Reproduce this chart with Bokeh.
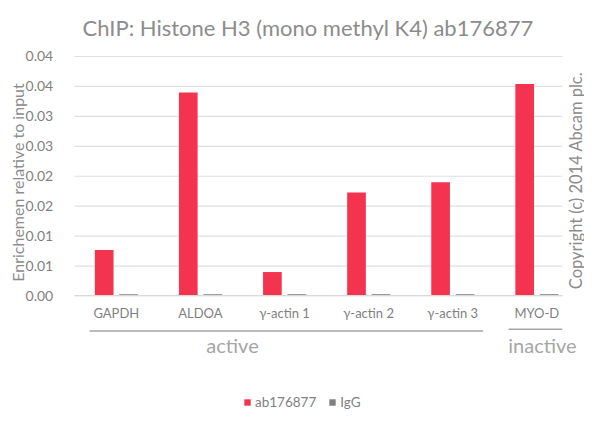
from math import pi
from bokeh.plotting import figure
from bokeh.models import Label, Legend, LegendItem, FixedTicker, Range1d, ColumnDataSource
from bokeh.transform import dodge
from bokeh.embed import file_html
from bokeh.resources import INLINE

categories = ["GAPDH", "ALDOA", "γ-actin 1", "γ-actin 2", "γ-actin 3", "MYO-D"]
ab176877 = [0.0077, 0.0340, 0.0040, 0.0173, 0.0190, 0.0354]
igg = [0.0003, 0.0003, 0.0003, 0.0003, 0.0003, 0.0003]
y_ticks = [0.0, 0.005, 0.01, 0.015, 0.02, 0.025, 0.03, 0.035, 0.04]
y_labels = ["0.00", "0.01", "0.01", "0.02", "0.02", "0.03", "0.03", "0.04", "0.04"]
title_text = "ChIP: Histone H3 (mono methyl K4) ab176877"
y_title = "Enrichemen relative to input"
copyright_text = "Copyright (c) 2014 Abcam plc."

FONT = "Lato"
RED = "#f4344f"
GREY = "#7f7f7f"
positions = list(range(len(categories)))
X_BOUNDS = (-0.5, 5.3026)

source = ColumnDataSource(dict(x=positions, ab=ab176877, igg=igg))

p = figure(
    width=584, height=411, output_backend="svg", toolbar_location=None,
    x_range=Range1d(-1.377, 5.567), y_range=Range1d(-0.01929, 0.0420),
    min_border_left=0, min_border_right=0, min_border_top=44, min_border_bottom=0,
    background_fill_color="white", border_fill_color="white",
    outline_line_color=None,
)
p.title.text = title_text
p.title.text_font = FONT
p.title.text_font_size = "22px"
p.title.text_font_style = "normal"
p.title.text_color = "#8c8c8c"
p.title.align = "left"
p.title.offset = 82
p.title.standoff = 8

# horizontal gridlines stop at the plot area, so they are drawn as segments
p.segment(x0=[X_BOUNDS[0]] * len(y_ticks), x1=[X_BOUNDS[1]] * len(y_ticks), y0=y_ticks, y1=y_ticks,
          line_color="#e0e0e0", line_width=1.2, level="underlay")

bar_a = p.vbar(x=dodge("x", -0.144), top="ab", width=0.222, source=source,
               fill_color=RED, line_color=None)
bar_b = p.vbar(x=dodge("x", 0.147), top="igg", width=0.222, source=source,
               fill_color=GREY, line_color=None)

# group brackets under the category labels
p.segment(x0=[positions[0] - 0.318], x1=[positions[4] + 0.36], y0=[-0.00585], y1=[-0.00585],
          line_color="#a6a6a6", line_width=1.5)
p.segment(x0=[positions[5] - 0.335], x1=[X_BOUNDS[1]], y0=[-0.00555], y1=[-0.00555],
          line_color="#a6a6a6", line_width=1.5)

xa = p.xaxis[0]
xa.fixed_location = 0
xa.bounds = X_BOUNDS
xa.ticker = FixedTicker(ticks=positions)
xa.major_label_overrides = dict(zip(positions, categories))
xa.major_label_text_font = FONT
xa.major_label_text_font_size = "13px"
xa.major_label_text_color = "#7f7f7f"
xa.major_label_standoff = 3
xa.major_tick_line_color = None
xa.minor_tick_line_color = None
xa.axis_line_color = "#d9d9d9"

ya = p.yaxis[0]
ya.fixed_location = X_BOUNDS[0]
ya.ticker = FixedTicker(ticks=y_ticks)
ya.major_label_overrides = dict(zip(y_ticks, y_labels))
ya.major_label_text_font = FONT
ya.major_label_text_font_size = "14px"
ya.major_label_text_color = "#7f7f7f"
ya.major_label_standoff = 15
ya.major_tick_line_color = None
ya.minor_tick_line_color = None
ya.axis_line_color = None

p.xgrid.visible = False
p.ygrid.visible = False

def text(t, x, y, size, color, angle=0.0):
    p.add_layout(Label(x=x, y=y, x_units="screen", y_units="screen", text=t, angle=angle,
                       text_font=FONT, text_font_size=size, text_color=color,
                       text_align="center", text_baseline="middle"))

text(y_title, 17, 229, "16px", "#8c8c8c", pi / 2)
text(copyright_text, 575, 231, "16.5px", "#8c8c8c", pi / 2)
text("active", 232, 67, "20px", "#a6a6a6")
text("inactive", 542, 67, "20px", "#a6a6a6")

legend = Legend(
    items=[LegendItem(label="ab176877", renderers=[bar_a]), LegendItem(label="IgG", renderers=[bar_b])],
    orientation="horizontal", location=(243, 1),
    border_line_color=None, background_fill_alpha=0,
    glyph_width=8, glyph_height=8, label_text_font=FONT, label_text_font_size="13.5px",
    label_text_color="#7f7f7f", label_standoff=4, spacing=12, padding=0, margin=0,
)
p.add_layout(legend)

open("out.html", "w").write(file_html(p, INLINE))
